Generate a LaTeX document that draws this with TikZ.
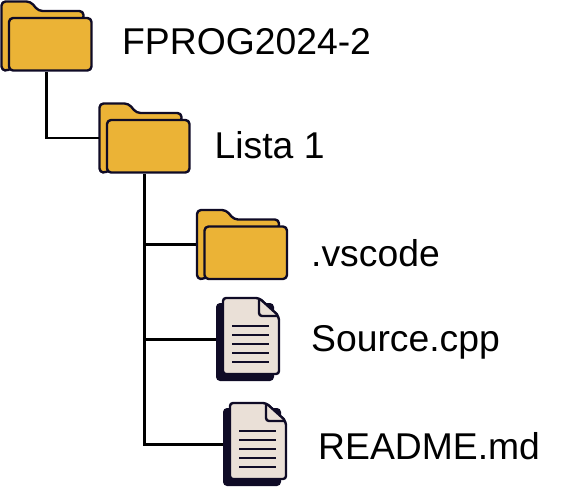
\documentclass[tikz,border=0pt]{standalone}
\usepackage{fontspec}
\setmainfont{Liberation Sans}
\usetikzlibrary{positioning}

\definecolor{folderyellow}{HTML}{EBB336}
\definecolor{pagecream}{HTML}{EAE0D7}
\definecolor{inkdark}{HTML}{0F0B26}

\tikzset{
  iconbox/.style={inner sep=0pt, outer sep=0pt},
  foldericon/.style={iconbox, minimum width=92pt, minimum height=72pt},
  fileicon/.style={iconbox, minimum width=64pt, minimum height=85pt},
  entrylabel/.style={inner sep=0pt, anchor=west, text height=27pt, text depth=8pt, font=\fontsize{37.3pt}{40pt}\selectfont},
  branch/.style={draw=black, line width=2.2pt},
  outline/.style={draw=inkdark, line width=2.4pt, line join=round},
  folder shape/.pic={
    \path[outline, fill=folderyellow, rounded corners=4pt] (8,70.5) -- (1,70.5) -- (1,1.5)
      -- (30,1.5) -- (38,11) -- (83,11) -- (83,20) -- cycle;
    \path[outline, fill=folderyellow, rounded corners=4pt] (8.5,18) rectangle (91,70.5);
  },
  file shape/.pic={
    \path[fill=inkdark, rounded corners=4pt] (0,6) rectangle (58,84);
    \path[outline, fill=pagecream, rounded corners=3pt] (7,1) -- (43,1) -- (63,20) -- (63,77) -- (7,77) -- cycle;
    \path[outline, fill=pagecream, rounded corners=3pt] (43,1) -- (43,19) -- (63,19) -- cycle;
    \foreach \liney in {29,38,47,56,65}
      \draw[inkdark, line width=1.8pt] (16,\liney) -- (53,\liney);
  }
}

\begin{document}
\begin{tikzpicture}[x=1pt, y=-1pt]
  \useasboundingbox (0,0) rectangle (564,490);

  % Top folder
  \node (rootfolder) [foldericon] at (46.5,36) {};
  \pic at (rootfolder.north west) {folder shape};
  \node (rootlabel) [entrylabel, right=29.5pt of rootfolder.east, anchor=west, yshift=-9pt] {FPROG2024-2};

  % Second level folder
  \node (listafolder) [foldericon] at (144.5,138) {};
  \pic at (listafolder.north west) {folder shape};
  \node (listalabel) [entrylabel, right=24pt of listafolder.east, anchor=west, yshift=-11pt] {Lista 1};

  % Contents of the second folder
  \node (vscodefolder) [foldericon] at (242,244.5) {};
  \node (sourcefile) [fileicon] at (248,339.5) {};
  \node (readmefile) [fileicon] at (255,444.5) {};

  % Connectors
  \draw[branch] (rootfolder.south) |- (listafolder.west);
  \draw[branch] (listafolder.south) |- (vscodefolder.west);
  \draw[branch] (listafolder.south) |- (sourcefile.west);
  \draw[branch] (listafolder.south) |- (readmefile.west);

  \pic at (vscodefolder.north west) {folder shape};
  \pic at (sourcefile.north west) {file shape};
  \pic at (readmefile.north west) {file shape};

  \node (vscodelabel) [entrylabel, right=23pt of vscodefolder.east, anchor=west, yshift=-12pt] {.vscode};
  \node (sourcelabel) [entrylabel, right=31pt of sourcefile.east, anchor=west, yshift=-2pt] {Source.cpp};
  \node (readmelabel) [entrylabel, right=31pt of readmefile.east, anchor=west, yshift=-5pt] {README.md};
\end{tikzpicture}
\end{document}
